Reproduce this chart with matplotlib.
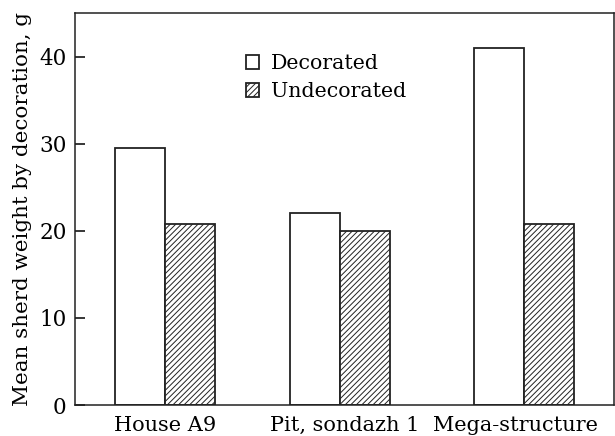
import numpy as np
import matplotlib.pyplot as plt

# mean sherd weight (g) per context
contexts = ['House A9', 'Pit, sondazh 1', 'Mega-structure']
decorated = [29.5, 22.0, 41.0]
undecorated = [20.8, 20.0, 20.8]

plt.rcParams['font.family'] = ['DejaVu Serif']
plt.rcParams['hatch.linewidth'] = 0.7

fig = plt.figure(figsize=(6.15, 4.36), dpi=100)
ax = fig.add_axes([75/615, 31/436, 539/615, 392/436])

x = np.array([0, 0.975, 2.0])
w = 0.28
ax.bar(x - w/2, decorated, w, color='white', edgecolor='#222222',
       linewidth=1.3, label='Decorated')
ax.bar(x + w/2, undecorated, w, color='white', edgecolor='#222222',
       linewidth=1.3, hatch='//////', label='Undecorated')

ax.set_xlim(-0.5, 2.5)
ax.set_ylim(0, 45)
ax.set_yticks([0, 10, 20, 30, 40])
ax.set_xticks([0, 1.0, 1.95])
ax.set_xticklabels(contexts)
ax.tick_params(axis='y', direction='in', length=7, width=1.1, labelsize=15.5, pad=6)
ax.tick_params(axis='x', length=0, labelsize=15, pad=8)
for s in ax.spines.values():
    s.set_linewidth(1.1)
    s.set_color('#222222')

ax.set_ylabel('Mean sherd weight by decoration, g', fontsize=15.4, labelpad=5)

ax.legend(loc='upper left', bbox_to_anchor=(0.283, 0.942), frameon=False,
          fontsize=14.8, handlelength=0.65, handleheight=0.65,
          handletextpad=0.55, labelspacing=0.45)

fig.savefig('out.png', dpi=100)
